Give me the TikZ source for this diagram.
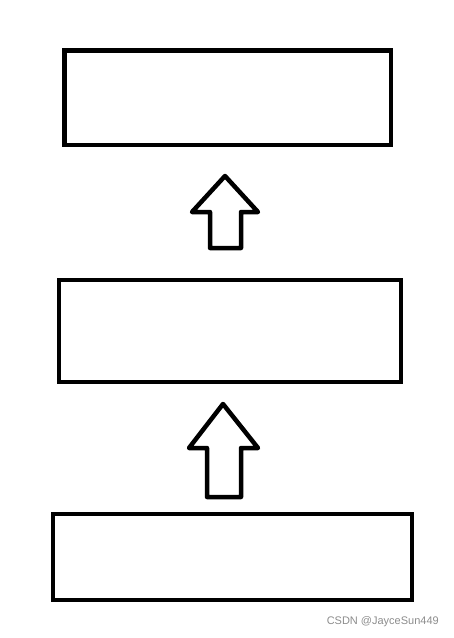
\documentclass[tikz,border=0pt]{standalone}
\usepackage{fontspec}
\setsansfont{Liberation Sans}
\begin{document}
\begin{tikzpicture}[x=1pt,y=-1pt,
  box/.style={draw=black,line width=4.5pt,minimum width=#1,inner sep=0pt},
  blockarrow/.style={draw=black,line width=4.5pt,line join=round,fill=white}]
\useasboundingbox (0,0) rectangle (454,638);
\node[box,minimum height=94.5pt,minimum width=326.5pt] (top) at (227.5,97.5) {};
\node[box,minimum height=102pt,minimum width=342pt] (mid) at (230,331) {};
\node[box,minimum height=86pt,minimum width=359pt] (bot) at (232.5,557) {};
\draw[blockarrow] (225,176) -- (258,212) -- (241,212) -- (241,248) -- (210,248) -- (210,212) -- (192,212) -- cycle;
\draw[blockarrow] (223,404) -- (258,448) -- (241,448) -- (241,497) -- (207,497) -- (207,448) -- (189,448) -- cycle;
\node[font=\sffamily\fontsize{11}{13}\selectfont,text=black!45,anchor=east,inner sep=0pt] (wm) at (439,622) {CSDN @JayceSun449};
\end{tikzpicture}
\end{document}
